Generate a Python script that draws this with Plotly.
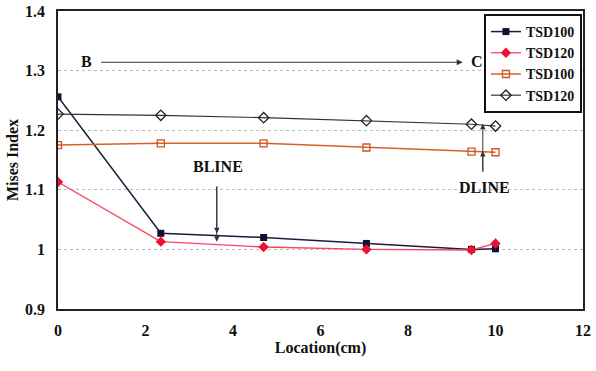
import plotly.graph_objects as go

loc = [0, 2.35, 4.7, 7.05, 9.45, 10]
tsd100_a = [1.256, 1.027, 1.020, 1.010, 1.000, 1.001]
tsd120_a = [1.113, 1.013, 1.004, 1.000, 0.999, 1.010]
tsd100_b = [1.175, 1.178, 1.178, 1.171, 1.164, 1.163]
tsd120_b = [1.227, 1.225, 1.221, 1.216, 1.210, 1.207]
names = ["TSD100", "TSD120", "TSD100", "TSD120"]

FONT = "Liberation Serif"

fig = go.Figure()
fig.add_trace(go.Scatter(x=loc, y=tsd100_a, name=names[0], mode="lines+markers",
                         line=dict(color="#1c1c3c", width=1.5),
                         marker=dict(symbol="square", size=7, color="#101030")))
fig.add_trace(go.Scatter(x=loc, y=tsd120_a, name=names[1], mode="lines+markers",
                         line=dict(color="#ff4060", width=1.3),
                         marker=dict(symbol="diamond", size=8, color="#ee1133")))
fig.add_trace(go.Scatter(x=loc, y=tsd100_b, name=names[2], mode="lines+markers",
                         line=dict(color="#d8602a", width=1.5),
                         marker=dict(symbol="square-open", size=7, color="#cc5522",
                                     line=dict(width=1.3))))
fig.add_trace(go.Scatter(x=loc, y=tsd120_b, name=names[3], mode="lines+markers",
                         line=dict(color="#333333", width=1.2),
                         marker=dict(symbol="diamond-open", size=8, color="#222222",
                                     line=dict(width=1.3))))

ann = []
txt = dict(family=FONT, size=16, color="#111111", weight="bold")
ann.append(dict(x=0.64, y=1.316, text="B", showarrow=False, font=txt))
ann.append(dict(x=9.58, y=1.316, text="C", showarrow=False, font=txt))
ann.append(dict(x=9.25, y=1.314, ax=0.95, ay=1.314, axref="x", ayref="y",
                text="", showarrow=True, arrowhead=2, arrowsize=1.2, arrowwidth=1,
                arrowcolor="#333333"))
ann.append(dict(x=3.66, y=1.139, text="BLINE", showarrow=False, font=txt))
ann.append(dict(x=3.63, y=1.027, ax=3.63, ay=1.108, axref="x", ayref="y",
                text="", showarrow=True, arrowhead=2, arrowsize=1.1, arrowwidth=1,
                arrowcolor="#333333"))
ann.append(dict(x=3.63, y=1.013, ax=3.63, ay=1.108, axref="x", ayref="y",
                text="", showarrow=True, arrowhead=2, arrowsize=1.1, arrowwidth=1,
                arrowcolor="#333333"))
ann.append(dict(x=9.74, y=1.104, text="DLINE", showarrow=False, font=txt))
ann.append(dict(x=9.71, y=1.211, ax=9.71, ay=1.128, axref="x", ayref="y",
                text="", showarrow=True, arrowhead=2, arrowsize=1.1, arrowwidth=1,
                arrowcolor="#333333"))
ann.append(dict(x=9.71, y=1.165, ax=9.71, ay=1.128, axref="x", ayref="y",
                text="", showarrow=True, arrowhead=2, arrowsize=1.1, arrowwidth=1,
                arrowcolor="#333333"))

fig.update_layout(
    width=596, height=371,
    margin=dict(l=58, r=13, t=11, b=62),
    paper_bgcolor="white", plot_bgcolor="white",
    font=dict(family=FONT, size=15, color="#111111"),
    showlegend=True,
    legend=dict(x=0.998, y=0.99, xanchor="right", yanchor="top",
                bordercolor="#111111", borderwidth=2, bgcolor="white",
                font=dict(family=FONT, size=14, color="#111111", weight="bold"),
                tracegroupgap=0, itemwidth=30),
    annotations=ann,
    xaxis=dict(range=[0, 12], dtick=2, tick0=0, showgrid=False, zeroline=False,
               showline=True, linecolor="#222222", linewidth=1.5, mirror=True,
               ticks="", ticklabelstandoff=6, automargin=False,
               tickfont=dict(family=FONT, size=16, weight="bold"),
               title=dict(text="Location(cm)", standoff=2,
                          font=dict(family=FONT, size=16, weight="bold"))),
    yaxis=dict(range=[0.9, 1.4], dtick=0.1, tick0=0.9, showgrid=True,
               gridcolor="#bbbbbb", griddash="dot", gridwidth=1, zeroline=False,
               showline=True, linecolor="#222222", linewidth=1.5, mirror=True,
               ticks="", ticklabelstandoff=8, automargin=False,
               tickfont=dict(family=FONT, size=16, weight="bold"),
               title=dict(text="Mises Index", standoff=2,
                          font=dict(family=FONT, size=16, weight="bold"))),
)

fig.write_html("out.html")
